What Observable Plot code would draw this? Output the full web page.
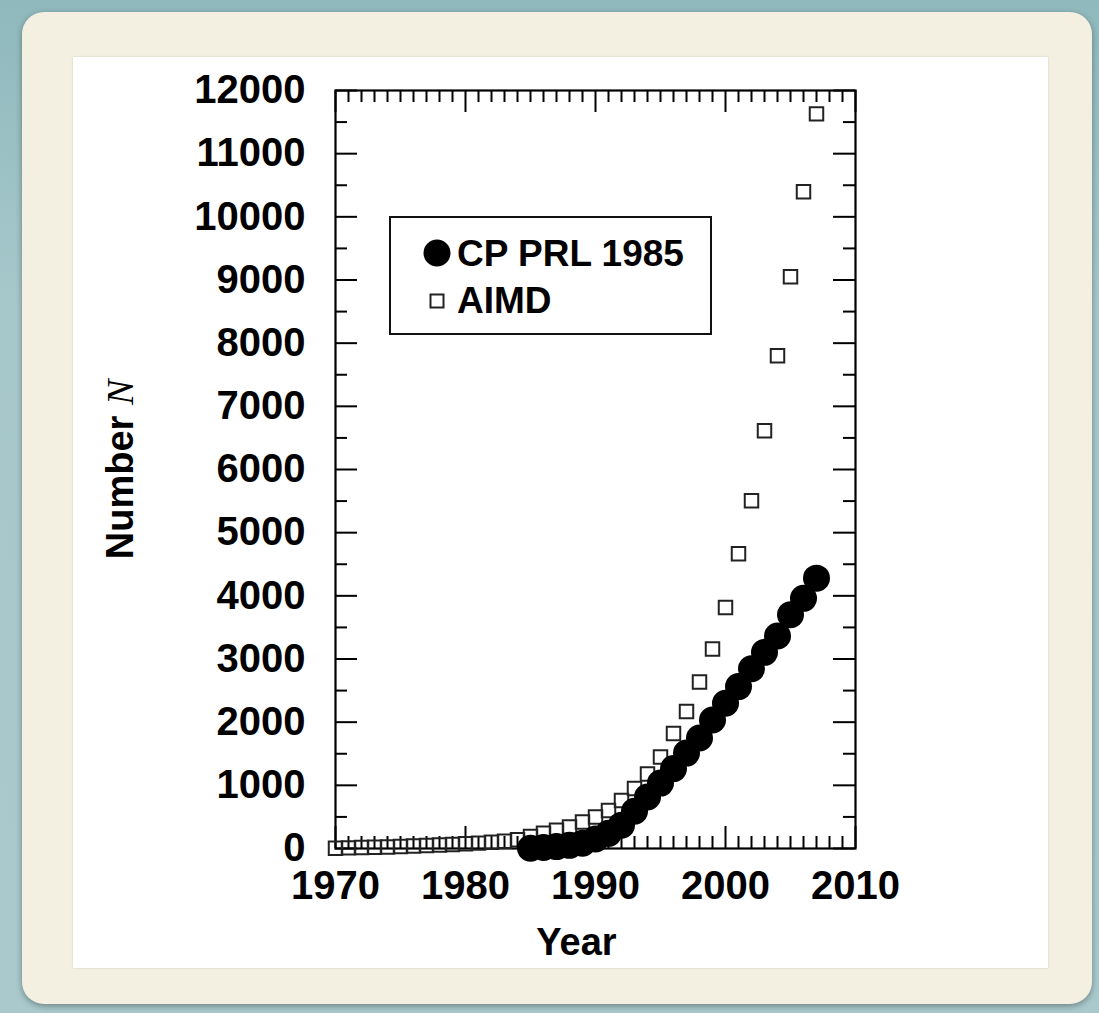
<!DOCTYPE html>
<html>
<head>
<meta charset="utf-8">
<script src="https://cdn.jsdelivr.net/npm/d3@7"></script>
<script src="https://cdn.jsdelivr.net/npm/@observablehq/plot@0.6"></script>
<style>
  html, body { margin: 0; padding: 0; }
  body {
    width: 1099px; height: 1013px; position: relative; overflow: hidden;
    background: linear-gradient(180deg, #8fb9bd 0%, #a7c8cb 30%, #a9c9cc 100%);
  }
  #card {
    position: absolute; left: 22px; top: 12px; width: 1070px; height: 992px;
    background: #f3f0e1; border-radius: 22px;
    box-shadow: 0 2px 6px rgba(0,0,0,0.35);
  }
  #panel {
    position: absolute; left: 73px; top: 57px; width: 975px; height: 911px;
    background: #ffffff; box-shadow: 0 0 2px rgba(0,0,0,0.15);
  }
  #chart { position: absolute; left: 0; top: 0; }
</style>
</head>
<body>
<div id="card"></div>
<div id="panel"></div>
<div id="chart"></div>
<script>
// ---- data ----
const aimdYears = d3.range(1970, 2008);
const aimdValues = [5, 10, 15, 20, 25, 30, 38, 46, 55, 65,
                    75, 85, 98, 115, 140, 190, 240, 290, 340, 420,
                    500, 600, 760, 950, 1180, 1450, 1820, 2170, 2635, 3160,
                    3815, 4665, 5506, 6614, 7800, 9050, 10396, 11630];
const cpYears = d3.range(1985, 2008);
const cpValues = [5, 15, 30, 50, 85, 150, 240, 370, 590, 815,
                  1035, 1265, 1510, 1750, 2035, 2300, 2563, 2845, 3105, 3365,
                  3700, 3960, 4280];
const xMajorTicks = [1970, 1980, 1990, 2000, 2010];
const xMinorTicks = d3.range(1970, 2011).filter(y => y % 10 !== 0);
const yMajorTicks = [0, 1000, 2000, 3000, 4000, 5000, 6000, 7000, 8000, 9000, 10000, 11000, 12000];
const yMinorTicks = d3.range(500, 12000, 1000);
const seriesNames = ["CP PRL 1985", "AIMD"];

const aimd = aimdYears.map((x, i) => ({x, y: aimdValues[i]}));
const cp = cpYears.map((x, i) => ({x, y: cpValues[i]}));

// ---- layout ----
const W = 1099, H = 1013;
const mL = 335, mR = 244, mT = 90, mB = 165;
const fw = W - mL - mR, fh = H - mT - mB;
const font = "'Liberation Sans', Arial, Helvetica, sans-serif";
const majorLen = 22, minorLen = 12;

const tickStyle = {stroke: "black", strokeWidth: 2};

const plot = Plot.plot({
  width: W, height: H,
  marginLeft: mL, marginRight: mR, marginTop: mT, marginBottom: mB,
  style: {background: "transparent", fontFamily: font, fontWeight: "bold", fontSize: "40px", color: "black", overflow: "visible"},
  x: {domain: [1970, 2010]},
  y: {domain: [0, 12000]},
  marks: [
    // bottom / top ticks
    Plot.tickX(xMinorTicks, {x: d => d, insetTop: fh - minorLen, ...tickStyle}),
    Plot.tickX(xMajorTicks, {x: d => d, insetTop: fh - majorLen, ...tickStyle}),
    Plot.tickX(xMinorTicks, {x: d => d, insetBottom: fh - minorLen, ...tickStyle}),
    Plot.tickX(xMajorTicks, {x: d => d, insetBottom: fh - majorLen, ...tickStyle}),
    // left / right ticks
    Plot.tickY(yMinorTicks, {y: d => d, insetRight: fw - minorLen, ...tickStyle}),
    Plot.tickY(yMajorTicks, {y: d => d, insetRight: fw - majorLen, ...tickStyle}),
    Plot.tickY(yMinorTicks, {y: d => d, insetLeft: fw - minorLen, ...tickStyle}),
    Plot.tickY(yMajorTicks, {y: d => d, insetLeft: fw - majorLen, ...tickStyle}),
    Plot.frame({stroke: "black", strokeWidth: 2.2}),
    Plot.axisX({ticks: xMajorTicks, tickSize: 0, tickPadding: 22, tickFormat: d => String(d),
      fontSize: 40, fontWeight: "bold", fontFamily: font, label: null}),
    Plot.axisY({ticks: yMajorTicks, tickSize: 0, tickPadding: 30, tickFormat: d => String(d),
      fontSize: 40, fontWeight: "bold", fontFamily: font, label: null}),
    Plot.dot(aimd, {x: "x", y: "y", symbol: "square", r: 7.6, stroke: "#222", strokeWidth: 2, fill: "white", fillOpacity: 0}),
    Plot.dot(cp, {x: "x", y: "y", r: 13.5, fill: "black", stroke: "none"}),
    Plot.text(["Year"], {frameAnchor: "bottom", dx: -19, dy: 94, lineAnchor: "middle", textAnchor: "middle",
      fontSize: 38, fontWeight: "bold", fontFamily: font, fill: "black"}),
    Plot.text(["Number N"], {frameAnchor: "left", rotate: -90, dx: -215, dy: 0, lineAnchor: "middle", textAnchor: "middle",
      fontSize: 38, fontWeight: "bold", fontFamily: font, fill: "black"})
  ]
});

// italic N in the y label
d3.select(plot).selectAll("text").filter(function() { return this.textContent === "Number N"; })
  .each(function() {
    const t = d3.select(this);
    t.text("Number ");
    t.append("tspan").attr("font-family", "'Liberation Serif', 'DejaVu Serif', serif")
      .attr("font-style", "italic").attr("font-weight", "normal").text("N");
  });

// legend box
const svg = d3.select(plot);
const lg = svg.append("g").attr("font-family", font).attr("font-weight", "bold")
  .attr("font-size", 37).attr("text-anchor", "start");
lg.append("rect").attr("x", 390).attr("y", 217).attr("width", 321).attr("height", 117)
  .attr("fill", "white").attr("stroke", "#111").attr("stroke-width", 2);
lg.append("circle").attr("cx", 437).attr("cy", 253).attr("r", 13.5).attr("fill", "black");
lg.append("rect").attr("x", 430.5).attr("y", 294.5).attr("width", 13).attr("height", 13)
  .attr("fill", "none").attr("stroke", "#222").attr("stroke-width", 2);
lg.append("text").attr("x", 457).attr("y", 266).attr("fill", "black").attr("text-anchor", "start").text(seriesNames[0]);
lg.append("text").attr("x", 457).attr("y", 313).attr("fill", "black").attr("text-anchor", "start").text(seriesNames[1]);

document.getElementById("chart").appendChild(plot);
</script>
</body>
</html>
